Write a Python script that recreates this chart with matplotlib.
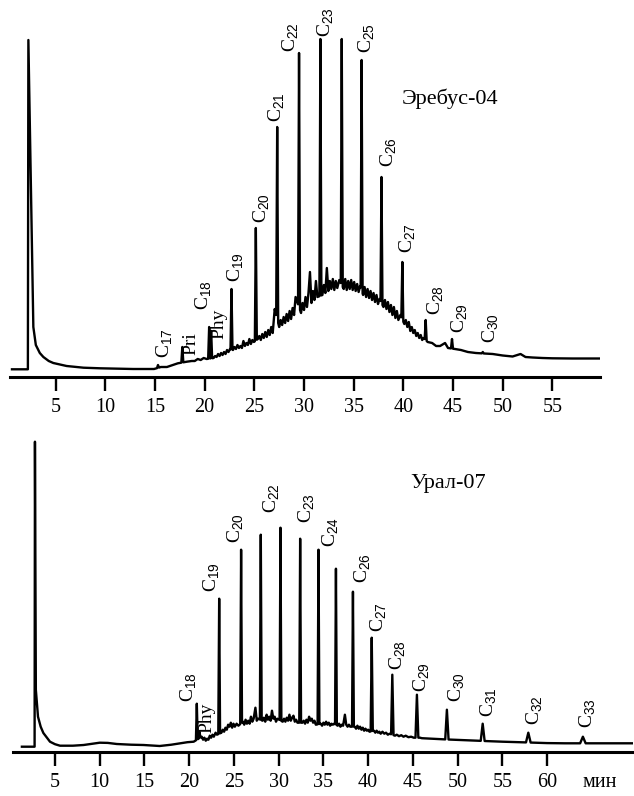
import numpy as np
import matplotlib
matplotlib.use('Agg')
import matplotlib.pyplot as plt

plt.rcParams['font.family'] = ['Liberation Serif', 'DejaVu Serif']
plt.rcParams['mathtext.fontset'] = 'custom'
plt.rcParams['mathtext.rm'] = 'Liberation Serif'
plt.rcParams['mathtext.sf'] = 'Liberation Sans'

# ------------------------------------------------------------------
# Sample 1: Эребус-04  (retention time, min ; detector response, a.u.)
# ------------------------------------------------------------------
top_title = 'Эребус-04'
top_ticks = [5, 10, 15, 20, 25, 30, 35, 40, 45, 50, 55]

# background trace (solvent front, baseline, unresolved hump with minor peaks)
top_trace = [
    (0.6, 7.7), (2.2, 7.7), (2.25, 337), (2.75, 50), (3.0, 32), (3.4, 24), (3.76, 20),
    (4.3, 16), (4.76, 14), (6.1, 11), (7.8, 9.3), (9.5, 8.7), (12.8, 8), (14.9, 8),
    (15.6, 10), (16.2, 10), (16.8, 12), (17.3, 13.7), (18.2, 15.3), (18.7, 16), (19.0, 16),
    (19.3, 18), (19.6, 17), (19.9, 19), (20.2, 18),
    (20.9, 19), (21.05, 21), (21.2, 20), (21.35, 23), (21.5, 21), (21.65, 24), (21.8, 22),
    (21.95, 25), (22.1, 23), (22.25, 27), (22.4, 25), (22.55, 28),
    (22.85, 27), (23.0, 30), (23.15, 28), (23.3, 32), (23.45, 29), (23.6, 31), (23.75, 29),
    (23.9, 36), (24.05, 31), (24.2, 34), (24.35, 32), (24.5, 38), (24.65, 33), (24.8, 37),
    (24.95, 35),
    (25.35, 38), (25.5, 41), (25.65, 37), (25.8, 43), (25.95, 39), (26.1, 45), (26.25, 40),
    (26.4, 47), (26.55, 42), (26.7, 50), (26.85, 44), (27.05, 68),
    (27.5, 50), (27.65, 57), (27.8, 52), (27.95, 60), (28.1, 54), (28.25, 63), (28.4, 56),
    (28.55, 66), (28.7, 58), (28.85, 69), (29.0, 62), (29.15, 80),
    (29.7, 64), (29.85, 74), (30.0, 67), (30.15, 80), (30.3, 70), (30.45, 84), (30.6, 105),
    (30.75, 74), (30.9, 86), (31.05, 77), (31.2, 96), (31.35, 80),
    (31.85, 82), (32.0, 92), (32.15, 84), (32.3, 109), (32.45, 86), (32.6, 96), (32.75, 88),
    (32.9, 98), (33.05, 87), (33.2, 96), (33.35, 89), (33.55, 97),
    (34.0, 88), (34.15, 98), (34.3, 87), (34.45, 96), (34.6, 88), (34.75, 97), (34.9, 87),
    (35.05, 95), (35.2, 86), (35.35, 93), (35.5, 85), (35.65, 91),
    (35.95, 82), (36.1, 90), (36.25, 80), (36.4, 88), (36.55, 79), (36.7, 86), (36.85, 77),
    (37.0, 84), (37.15, 75), (37.3, 82), (37.45, 73), (37.6, 78),
    (38.0, 70), (38.15, 77), (38.3, 68), (38.45, 75), (38.6, 65), (38.75, 72), (38.9, 62),
    (39.05, 70), (39.2, 59), (39.35, 66), (39.5, 57), (39.7, 62),
    (40.1, 53), (40.25, 57), (40.4, 50), (40.55, 55), (40.7, 46), (40.85, 50), (41.0, 44),
    (41.15, 47), (41.3, 41), (41.45, 44), (41.6, 39), (41.75, 42), (41.9, 37), (42.05, 39),
    (42.45, 35), (42.9, 34), (43.3, 31), (43.7, 31), (44.2, 34), (44.5, 29),
    (45.2, 28), (45.8, 27), (46.5, 25), (47.3, 24), (49.0, 23), (50.0, 21.5), (51.0, 20.5),
    (51.8, 23), (52.3, 20), (53.0, 19.5), (54.0, 19), (55.0, 18.7), (57.0, 18.5), (59.8, 18.5),
]

top_peak_names = ['C17', 'Pri', 'C18', 'Phy', 'C19', 'C20', 'C21', 'C22', 'C23', 'C24',
                  'C25', 'C26', 'C27', 'C28', 'C29', 'C30']
top_peak_t = [15.3, 17.75, 20.45, 20.65, 22.7, 25.15, 27.3, 29.5, 31.65, 33.8,
              35.8, 37.8, 39.9, 42.25, 44.9, 48.0]
top_peak_h = [12, 30, 50, 46, 88, 149, 250, 324, 338, 338,
              317, 200, 115, 57, 38, 25]

# ------------------------------------------------------------------
# Sample 2: Урал-07
# ------------------------------------------------------------------
bot_title = 'Урал-07'
bot_ticks = [5, 10, 15, 20, 25, 30, 35, 40, 45, 50, 55, 60]
bot_unit = 'мин'

bot_trace = [
    (1.3, 5), (2.72, 5), (2.76, 310), (2.86, 62), (3.1, 35), (3.4, 25), (3.7, 18.7),
    (4.44, 10), (5.0, 7.5), (5.56, 6), (7.0, 6), (8.2, 6.7), (9.2, 8), (10.0, 9),
    (10.9, 8.8), (11.9, 7.7), (13.5, 7), (14.9, 6.7), (16.7, 5.7), (18.0, 7), (19.0, 8.4),
    (19.8, 9.5), (20.5, 10),
    (21.4, 15), (21.55, 12), (21.7, 14), (21.85, 11), (22.0, 13), (22.15, 12), (22.3, 16),
    (22.45, 14), (22.6, 17), (22.75, 15), (22.95, 19), (23.1, 17),
    (23.6, 19), (23.75, 22), (23.9, 20), (24.05, 24), (24.2, 22), (24.35, 27), (24.5, 25),
    (24.65, 29), (24.8, 24), (24.95, 28), (25.1, 25), (25.3, 28), (25.5, 26),
    (26.0, 30), (26.15, 27), (26.3, 32), (26.45, 28), (26.6, 31), (26.75, 28), (26.9, 35),
    (27.05, 30), (27.2, 33), (27.4, 44), (27.55, 31), (27.7, 33),
    (28.2, 31), (28.35, 34), (28.5, 30), (28.65, 37), (28.8, 32), (28.95, 35), (29.1, 31),
    (29.25, 41), (29.4, 33), (29.55, 35), (29.7, 30), (29.85, 33),
    (30.45, 30), (30.6, 33), (30.75, 30), (30.9, 34), (31.05, 31), (31.2, 37), (31.35, 31),
    (31.5, 34), (31.65, 36), (31.8, 30), (31.95, 32), (32.1, 29),
    (32.65, 29), (32.8, 31), (32.95, 28), (33.1, 32), (33.25, 29), (33.4, 35), (33.55, 31),
    (33.7, 33), (33.85, 29), (34.0, 31), (34.15, 27),
    (34.7, 28), (34.85, 26), (35.0, 29), (35.15, 27), (35.3, 30), (35.45, 27), (35.6, 29),
    (35.75, 26), (35.9, 28), (36.05, 27), (36.2, 28),
    (36.6, 26), (36.75, 28), (36.9, 25), (37.05, 27), (37.2, 26), (37.4, 37), (37.55, 27),
    (37.7, 25), (37.85, 27), (38.0, 25),
    (38.5, 25), (38.65, 23), (38.8, 26), (38.95, 23), (39.1, 25), (39.25, 22), (39.4, 24),
    (39.55, 21), (39.7, 23), (39.85, 21), (40.0, 22), (40.15, 20),
    (40.65, 21), (40.8, 19), (40.95, 21), (41.1, 19), (41.25, 20), (41.4, 18), (41.6, 20),
    (41.8, 18), (42.0, 19), (42.2, 17), (42.4, 18),
    (43.0, 16), (43.2, 17), (43.45, 15.5), (43.7, 16.5), (43.95, 15), (44.2, 16),
    (44.5, 14.5), (44.8, 15), (45.1, 14),
    (45.8, 14), (46.0, 13.5), (47.0, 13), (48.0, 12.5), (49.5, 12), (51.0, 11.5),
    (52.2, 11), (53.5, 10.5), (55.0, 10), (57.0, 9.5), (58.6, 9), (60.0, 8.6), (62.0, 8.4),
    (65.0, 8.4), (69.6, 8.4),
]

bot_peak_names = ['C18', 'Phy', 'C19', 'C20', 'C21', 'C22', 'C23', 'C24', 'C25', 'C26',
                  'C27', 'C28', 'C29', 'C30', 'C31', 'C32', 'C33']
bot_peak_t = [20.85, 21.15, 23.35, 25.8, 28.0, 30.2, 32.4, 34.45, 36.4, 38.3,
              40.4, 42.7, 45.45, 48.8, 52.8, 57.9, 64.0]
bot_peak_h = [48, 20, 153, 202, 217, 224, 213, 202, 183, 160,
              114, 77, 57, 42, 28, 19, 15]

# ------------------------------------------------------------------
# Layout / style (label offsets from peak apex, in data units)
# ------------------------------------------------------------------
top_label_off = {'C17': (0.7, 7), 'Pri': (0.85, -8), 'C18': (-0.55, 17), 'Phy': (0.75, -8),
                 'C19': (0.4, 7), 'C20': (0.6, 5), 'C21': (0.0, 5), 'C22': (-0.8, 1),
                 'C23': (0.55, 2), 'C25': (0.5, 7), 'C26': (0.7, 10), 'C27': (0.6, 9),
                 'C28': (1.05, 5), 'C29': (0.8, 6), 'C30': (0.8, 9)}
bot_label_off = {'C18': (-0.85, 2), 'Phy': (0.85, -1), 'C19': (-0.85, 7), 'C20': (-0.6, 7),
                 'C22': (-1.0, 15), 'C23': (0.8, 16), 'C24': (1.35, 3), 'C26': (1.1, 9),
                 'C27': (0.8, 6), 'C28': (0.6, 5), 'C29': (0.6, 3), 'C30': (1.1, 8),
                 'C31': (0.7, 7), 'C32': (0.7, 8), 'C33': (0.5, 9)}

W, H = 634, 796
fig = plt.figure(figsize=(W / 100, H / 100), dpi=100)


def px_axes(x0, x1, y_axis, ytop):
    return fig.add_axes([x0 / W, 1 - y_axis / H, (x1 - x0) / W, (y_axis - ytop) / H])


def label_text(n):
    if n.startswith('C'):
        return 'C$_{\\mathsf{%s}}$' % n[1:]
    return n


def build_trace(trace, pk_t, pk_h, width):
    pk_t = np.asarray(pk_t, float)
    pk_w = np.array([width(p) for p in pk_t])
    keep = [(t, h) for t, h in trace if np.all(np.abs(pk_t - t) > pk_w + 0.02)]
    kt = np.array([p[0] for p in keep])
    kh = np.array([p[1] for p in keep])
    pts = list(keep)
    for t, h, w in zip(pk_t, pk_h, pk_w):
        pts.append((t - w, float(np.interp(t - w, kt, kh))))
        pts.append((t, h))
        pts.append((t + w, float(np.interp(t + w, kt, kh))))
    pts.sort(key=lambda p: p[0])
    return [p[0] for p in pts], [p[1] for p in pts]


def style_axis(ax, ticks):
    for s in ('top', 'left', 'right'):
        ax.spines[s].set_visible(False)
    ax.spines['bottom'].set_linewidth(2.2)
    ax.set_yticks([])
    ax.set_xticks(ticks)
    ax.set_xticklabels([str(t) for t in ticks])
    ax.tick_params(axis='x', which='major', direction='out', length=10, width=1.7,
                   pad=5, labelsize=14.5)
    ax.patch.set_visible(False)


# ---------------- top panel ----------------
ax1 = px_axes(10, 600, 377, 27)
ax1.set_xlim(0.4, 59.8)
ax1.set_ylim(0, 350)
t1, h1 = build_trace(top_trace, top_peak_t, top_peak_h, lambda t: 0.1)
ax1.plot(t1, h1, color='black', lw=1.7, solid_joinstyle='round')
style_axis(ax1, top_ticks)
for n, t, h in zip(top_peak_names, top_peak_t, top_peak_h):
    if n in top_label_off:
        dx, dy = top_label_off[n]
        ax1.text(t + dx, h + dy, label_text(n), rotation=90, ha='center', va='bottom',
                 fontsize=14)
ax1.text(44.7, 273, top_title, ha='center', va='baseline', fontsize=16)

# ---------------- bottom panel ----------------
ax2 = px_axes(13.3, 633, 751.7, 421.7)
ax2.set_xlim(0.34, 69.6)
ax2.set_ylim(0, 330)
t2, h2 = build_trace(bot_trace, bot_peak_t, bot_peak_h,
                     lambda t: 0.1 + 0.008 * max(0.0, t - 38))
ax2.plot(t2, h2, color='black', lw=1.7, solid_joinstyle='round')
style_axis(ax2, bot_ticks)
ax2.set_xticks([65.9], labels=[bot_unit], minor=True)
ax2.tick_params(axis='x', which='minor', length=0, pad=15, labelsize=14.5)
for n, t, h in zip(bot_peak_names, bot_peak_t, bot_peak_h):
    if n in bot_label_off:
        dx, dy = bot_label_off[n]
        ax2.text(t + dx, h + dy, label_text(n), rotation=90, ha='center', va='bottom',
                 fontsize=14)
ax2.text(48.9, 263.4, bot_title, ha='center', va='baseline', fontsize=16)

fig.savefig('out.png', dpi=100)
